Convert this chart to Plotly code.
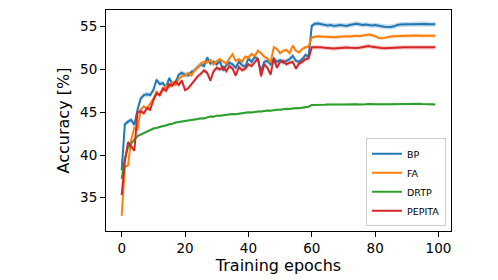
import plotly.graph_objects as go

epochs = list(range(100))

bp = [38.2, 43.6, 43.9, 44.1, 43.5, 45.3, 46.6, 47.0, 47.1, 47.0,
      47.6, 48.8, 48.3, 48.4, 47.9, 49.0, 48.3, 48.5, 49.4, 49.6,
      49.4, 49.3, 49.7, 49.9, 50.3, 50.6, 50.4, 51.4, 50.7, 50.9,
      50.6, 51.0, 49.9, 50.5, 50.8, 50.6, 50.2, 50.9, 50.5, 50.3,
      51.3, 50.9, 51.5, 51.2, 49.8, 50.9, 51.0, 50.6, 51.3, 50.9,
      51.1, 50.8, 51.0, 51.2, 51.6, 51.0, 50.9, 51.2, 51.7, 51.5,
      55.1, 55.35, 55.38, 55.3, 55.2, 55.15, 55.2, 55.1, 55.15, 55.2,
      55.15, 55.1, 55.2, 55.25, 55.35, 55.3, 55.2, 55.25, 55.2, 55.15,
      55.2, 55.1, 55.05, 55.0, 54.95, 54.98, 55.05, 55.2, 55.25, 55.3,
      55.28, 55.3, 55.32, 55.3, 55.35, 55.38, 55.33, 55.3, 55.32, 55.3]

fa = [32.9, 38.6, 38.8, 41.8, 43.2, 43.0, 45.3, 45.7, 45.4, 46.0,
      46.6, 47.4, 47.0, 47.6, 48.1, 47.9, 48.5, 48.2, 48.9, 49.2,
      49.3, 49.6, 49.3, 49.9, 50.2, 50.7, 50.9, 50.8, 51.1, 50.6,
      51.0, 51.2, 50.9, 50.7, 51.3, 51.8, 51.0, 51.2, 50.9, 51.5,
      51.4, 51.8, 51.6, 52.2, 51.9, 51.5, 51.3, 50.8, 52.6, 52.4,
      51.9, 52.2, 52.3, 51.9, 52.8, 52.2, 52.0, 52.4, 52.6, 52.7,
      53.75, 53.85, 53.9, 53.85, 53.82, 53.8, 53.85, 53.78, 53.8, 53.85,
      53.9, 53.88, 53.85, 53.9, 53.95, 53.9, 53.95, 54.0, 54.08, 54.0,
      53.9, 53.7, 53.65, 53.7, 53.8, 53.85, 53.88, 53.9, 53.95, 53.9,
      53.92, 53.95, 53.95, 53.98, 53.95, 53.97, 53.95, 53.97, 53.95, 53.96]

drtp = [37.2, 39.6, 40.9, 41.4, 41.8, 42.2, 42.4, 42.6, 42.75, 42.9,
        43.1, 43.15, 43.3, 43.4, 43.45, 43.6, 43.65, 43.8, 43.85, 43.9,
        44.0, 43.98, 44.1, 44.15, 44.2, 44.3, 44.28, 44.4, 44.5, 44.48,
        44.6, 44.58, 44.65, 44.7, 44.75, 44.8, 44.78, 44.85, 44.9, 44.95,
        45.0, 44.98, 45.05, 45.1, 45.08, 45.15, 45.2, 45.18, 45.25, 45.3,
        45.28, 45.35, 45.4, 45.38, 45.45, 45.5, 45.48, 45.55, 45.6, 45.65,
        45.85, 45.88, 45.87, 45.9, 45.88, 45.9, 45.92, 45.9, 45.88, 45.9,
        45.91, 45.93, 45.9, 45.92, 45.95, 45.92, 45.9, 45.93, 45.96, 45.92,
        45.93, 45.95, 45.92, 45.94, 45.93, 45.95, 45.96, 45.94, 45.95, 45.96,
        45.97, 45.95, 45.96, 45.97, 45.98, 45.96, 45.95, 45.93, 45.92, 45.92]

pepita = [35.3, 39.2, 41.5, 41.0, 40.5, 45.0, 45.1, 44.9, 45.5, 45.3,
          46.4, 47.2, 47.0, 47.8, 47.5, 48.3, 48.1, 48.6, 48.2, 48.7,
          47.6, 47.8, 48.3, 48.7, 49.2, 49.5, 49.9, 49.6, 48.7, 49.8,
          50.2, 50.0, 50.3, 49.8, 50.4, 50.1, 49.3, 50.3, 49.9, 50.1,
          50.6, 50.4, 50.8, 51.3, 49.2, 50.6, 50.2, 49.4, 51.3, 50.2,
          50.9, 51.0, 50.6, 50.8, 50.9, 50.1, 50.7, 50.9, 51.2, 51.3,
          52.6, 52.62, 52.58, 52.6, 52.55, 52.5, 52.42, 52.45, 52.5, 52.55,
          52.6, 52.58, 52.55, 52.5, 52.52, 52.55, 52.6, 52.62, 52.75, 52.65,
          52.58, 52.55, 52.52, 52.5, 52.5, 52.52, 52.55, 52.55, 52.58, 52.6,
          52.6, 52.58, 52.6, 52.62, 52.6, 52.6, 52.62, 52.6, 52.6, 52.6]

series_names = ["BP", "FA", "DRTP", "PEPITA"]
series_values = [bp, fa, drtp, pepita]
band_halfwidth = [0.3, 0.2, 0.12, 0.25]
colors = ["#1f77b4", "#ff7f0e", "#2ca02c", "#d62728"]
fills = ["rgba(31,119,180,0.25)", "rgba(255,127,14,0.25)",
         "rgba(44,160,44,0.25)", "rgba(214,39,40,0.25)"]

x_ticks = [0, 20, 40, 60, 80, 100]
y_ticks = [35, 40, 45, 50, 55]

fig = go.Figure()
for name, vals, hw, col, fc in zip(series_names, series_values, band_halfwidth, colors, fills):
    lower = [v - hw for v in vals]
    upper = [v + hw for v in vals]
    fig.add_trace(go.Scatter(x=epochs, y=lower, mode="lines", line=dict(width=0),
                             showlegend=False, hoverinfo="skip"))
    fig.add_trace(go.Scatter(x=epochs, y=upper, mode="lines", line=dict(width=0),
                             fill="tonexty", fillcolor=fc, showlegend=False, hoverinfo="skip"))
    fig.add_trace(go.Scatter(x=epochs, y=vals, mode="lines", name=name,
                             line=dict(color=col, width=2)))

font = "DejaVu Sans"
fig.update_layout(
    width=498, height=280,
    margin=dict(l=106, r=47, t=9, b=47),
    paper_bgcolor="white", plot_bgcolor="white",
    font=dict(family=font, size=13.5, color="black"),
    showlegend=True,
    legend=dict(x=0.9855, y=0.021, xanchor="right", yanchor="bottom",
                bgcolor="rgba(255,255,255,0.8)", bordercolor="#cccccc", borderwidth=1,
                font=dict(family=font, size=9.5, color="black"),
                traceorder="normal", tracegroupgap=0, itemwidth=30),
    xaxis=dict(range=[-4.95, 103.95], tickvals=x_ticks, ticks="outside", ticklen=5,
               tickwidth=1.1, tickcolor="black", showline=True, mirror=True,
               linecolor="black", linewidth=1.1, showgrid=False, zeroline=False,
               title=dict(text="Training epochs", standoff=4),
               tickfont=dict(size=13.5)),
    yaxis=dict(range=[31.11, 56.96], tickvals=y_ticks, ticks="outside", ticklen=5,
               tickwidth=1.1, tickcolor="black", showline=True, mirror=True,
               linecolor="black", linewidth=1.1, showgrid=False, zeroline=False,
               title=dict(text="Accuracy [%]", standoff=6),
               tickfont=dict(size=13.5)),
)

fig.write_html("out.html", config={"displayModeBar": False},
               post_script="document.body.style.margin='0';")
